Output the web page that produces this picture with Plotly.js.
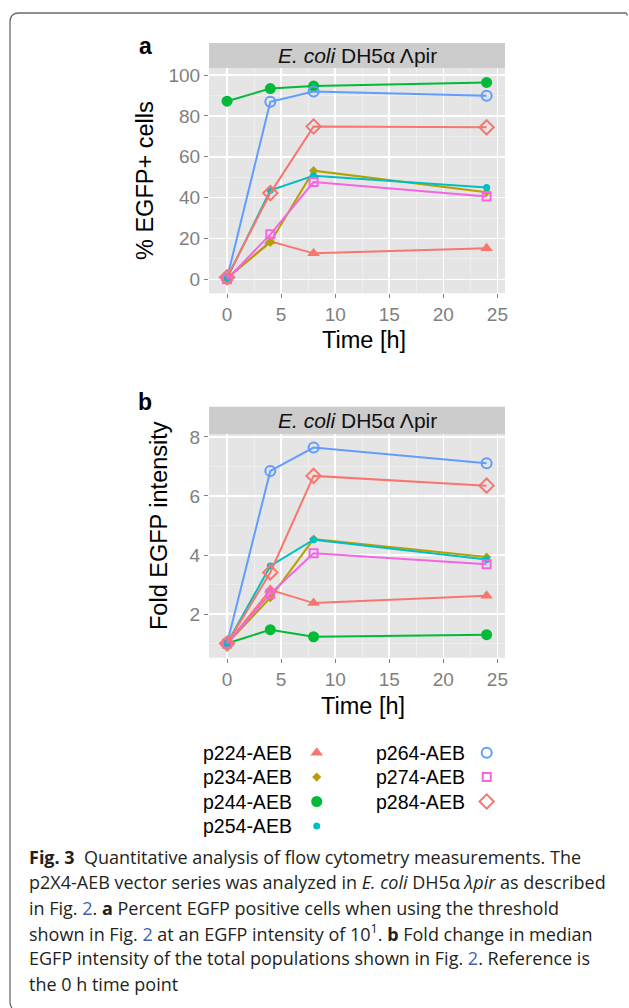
<!DOCTYPE html>
<html>
<head>
<meta charset="utf-8">
<script src="https://cdn.plot.ly/plotly-3.0.1.min.js"></script>
<style>html,body{margin:0;padding:0;background:#fff;}#chart{width:629px;height:1008px;}</style>
</head>
<body>
<div id="chart"></div>
<script>
// ---------------- data ----------------
const timeH = [0, 4, 8, 24];
const seriesNames = ["p224-AEB", "p234-AEB", "p244-AEB", "p254-AEB", "p264-AEB", "p274-AEB", "p284-AEB"];
// % EGFP+ cells (panel a)
const pct_p224 = [0.5, 18.6, 12.7, 15.2];
const pct_p234 = [0.5, 18.1, 53.2, 42.6];
const pct_p244 = [87.2, 93.4, 94.6, 96.4];
const pct_p254 = [0.5, 43.6, 50.7, 44.9];
const pct_p264 = [0.5, 86.9, 91.9, 89.9];
const pct_p274 = [0.0, 22.0, 47.6, 40.5];
const pct_p284 = [1.0, 42.2, 74.8, 74.4];
// Fold EGFP intensity (panel b)
const fold_p224 = [1, 2.82, 2.37, 2.62];
const fold_p234 = [1, 2.55, 4.54, 3.93];
const fold_p244 = [1, 1.47, 1.23, 1.30];
const fold_p254 = [1, 3.63, 4.52, 3.85];
const fold_p264 = [1, 6.85, 7.64, 7.11];
const fold_p274 = [1, 2.69, 4.06, 3.69];
const fold_p284 = [1, 3.41, 6.68, 6.35];
const xTicks = [0, 5, 10, 15, 20, 25];
const stripLabel = "<i>E. coli</i> DH5α Λpir";

const pctSeries = [pct_p224, pct_p234, pct_p244, pct_p254, pct_p264, pct_p274, pct_p284];
const foldSeries = [fold_p224, fold_p234, fold_p244, fold_p254, fold_p264, fold_p274, fold_p284];

// ---------------- styles ----------------
const seriesColors = ["#F8766D", "#B79F00", "#00BA38", "#00BFC4", "#619CFF", "#F564E3", "#F8766D"];
const seriesSymbols = ["triangle-up", "diamond", "circle", "circle", "circle-open", "square-open", "diamond-open"];
const seriesSizes = [11, 7, 11, 7, 10, 8, 11];
const seriesOpen = [false, false, false, false, true, true, true];

const W = 629, H = 1008;
const px = x => x / W;
const py = y => 1 - y / H;
const FONT = '"Liberation Sans", Arial, Helvetica, sans-serif';
const CAPFONT = '"Open Sans", "Noto Sans", sans-serif';

const PL = 209, PR = 505;
const A = {top: 68.3, bottom: 293.3, stripTop: 43};
const B = {top: 434.3, bottom: 657.7, stripTop: 406.7};

const traces = [];
function marker(i) {
  return {
    symbol: seriesSymbols[i], size: seriesSizes[i], color: seriesColors[i],
    line: {color: seriesColors[i], width: seriesOpen[i] ? 2 : 0}
  };
}
for (let i = 0; i < seriesNames.length; i++) {
  traces.push({x: timeH, y: pctSeries[i], xaxis: "x", yaxis: "y", mode: "lines+markers", name: seriesNames[i],
    line: {color: seriesColors[i], width: 2}, marker: marker(i), showlegend: false, cliponaxis: false});
  traces.push({x: timeH, y: foldSeries[i], xaxis: "x2", yaxis: "y2", mode: "lines+markers", name: seriesNames[i],
    line: {color: seriesColors[i], width: 2}, marker: marker(i), showlegend: false, cliponaxis: false});
}
// custom legend (text then key, two columns)
const legCols = [{tx: 200.7, kx: 316.7}, {tx: 374, kx: 486.7}];
const legRow0 = 752.7, legDy = 24.4, legPerCol = 4;
const annotations = [];
for (let i = 0; i < seriesNames.length; i++) {
  const c = Math.floor(i / legPerCol), r = i % legPerCol;
  const yy = legRow0 + r * legDy;
  traces.push({x: [legCols[c].kx], y: [yy], xaxis: "x3", yaxis: "y3", mode: "markers",
    marker: marker(i), showlegend: false, cliponaxis: false, hoverinfo: "skip"});
  annotations.push({xref: "paper", yref: "paper", x: px(legCols[c].tx), y: py(yy), xanchor: "left", yanchor: "middle",
    text: seriesNames[i], showarrow: false, font: {family: FONT, size: 19.5, color: "#000"}});
}

function xaxisDef(anchor) {
  return {
    domain: [px(PL), px(PR)], range: [-1.67, 25.7], anchor: anchor,
    tickmode: "array", tickvals: xTicks, ticktext: xTicks.map(String),
    showgrid: true, gridcolor: "#ffffff", gridwidth: 1.6, zeroline: false, showline: false,
    ticks: "outside", ticklen: 4, tickwidth: 1, tickcolor: "#7f7f7f",
    tickfont: {family: FONT, size: 19, color: "#7f7f7f"},
    minor: {tickmode: "array", tickvals: [2.5, 7.5, 12.5, 17.5, 22.5], showgrid: true, gridcolor: "#F2F2F2", gridwidth: 0.7, ticks: ""},
    fixedrange: true
  };
}
function yaxisDef(anchor, top, bottom, range, dtick, minorVals) {
  return {
    domain: [py(bottom), py(top)], range: range, anchor: anchor,
    tickmode: "linear", tick0: 0, dtick: dtick,
    showgrid: true, gridcolor: "#ffffff", gridwidth: 1.6, zeroline: false, showline: false,
    ticks: "outside", ticklen: 4, tickwidth: 1, tickcolor: "#7f7f7f",
    tickfont: {family: FONT, size: 19, color: "#7f7f7f"},
    minor: {tickmode: "array", tickvals: minorVals, showgrid: true, gridcolor: "#F2F2F2", gridwidth: 0.7, ticks: ""},
    fixedrange: true
  };
}

const shapes = [
  {type: "rect", xref: "x domain", yref: "y domain", x0: 0, x1: 1, y0: 0, y1: 1, fillcolor: "#E5E5E5", line: {width: 0}, layer: "below"},
  {type: "rect", xref: "x2 domain", yref: "y2 domain", x0: 0, x1: 1, y0: 0, y1: 1, fillcolor: "#E5E5E5", line: {width: 0}, layer: "below"},
  {type: "rect", xref: "paper", yref: "paper", x0: px(PL), x1: px(PR), y0: py(A.top), y1: py(A.stripTop), fillcolor: "#CCCCCC", line: {width: 0}, layer: "below"},
  {type: "rect", xref: "paper", yref: "paper", x0: px(PL), x1: px(PR), y0: py(B.top), y1: py(B.stripTop), fillcolor: "#CCCCCC", line: {width: 0}, layer: "below"},
  {type: "path", xref: "paper", yref: "paper",
    path: `M ${px(12)},${py(1008)} Q ${px(10)},${py(1006)} ${px(10)},${py(1002)} L ${px(10)},${py(22)} Q ${px(10)},${py(13)} ${px(19)},${py(13)} L ${px(626)},${py(13)} L ${px(627.5)},${py(15.5)}`,
    line: {color: "#6a6a6a", width: 1.3}}
];

// strip texts, panel labels, axis titles
annotations.push(
  {xref: "paper", yref: "paper", x: px((PL + PR) / 2), y: py((A.stripTop + A.top) / 2), text: stripLabel, showarrow: false,
    xanchor: "center", yanchor: "middle", font: {family: FONT, size: 21, color: "#111"}},
  {xref: "paper", yref: "paper", x: px((PL + PR) / 2), y: py((B.stripTop + B.top) / 2), text: stripLabel, showarrow: false,
    xanchor: "center", yanchor: "middle", font: {family: FONT, size: 21, color: "#111"}},
  {xref: "paper", yref: "paper", x: px(145), y: py(46), text: "<b>a</b>", showarrow: false,
    xanchor: "center", yanchor: "middle", font: {family: FONT, size: 23, color: "#000"}},
  {xref: "paper", yref: "paper", x: px(145), y: py(402), text: "<b>b</b>", showarrow: false,
    xanchor: "center", yanchor: "middle", font: {family: FONT, size: 23, color: "#000"}},
  {xref: "paper", yref: "paper", x: px(145), y: py(181), text: "% EGFP+ cells", textangle: -90, showarrow: false,
    xanchor: "center", yanchor: "middle", font: {family: FONT, size: 23.5, color: "#000"}},
  {xref: "paper", yref: "paper", x: px(159), y: py(526), text: "Fold EGFP intensity", textangle: -90, showarrow: false,
    xanchor: "center", yanchor: "middle", font: {family: FONT, size: 23.5, color: "#000"}},
  {xref: "paper", yref: "paper", x: px(364), y: py(340), text: "Time [h]", showarrow: false,
    xanchor: "center", yanchor: "middle", font: {family: FONT, size: 23.5, color: "#000"}},
  {xref: "paper", yref: "paper", x: px(363), y: py(706), text: "Time [h]", showarrow: false,
    xanchor: "center", yanchor: "middle", font: {family: FONT, size: 23.5, color: "#000"}}
);

// caption
const LINK = "#3b62b8";
const captionLines = [
  "<b>Fig. 3</b>  Quantitative analysis of flow cytometry measurements. The",
  "p2X4-AEB vector series was analyzed in <i>E. coli</i> DH5α <i>λpir</i> as described",
  `in Fig. <span style="color:${LINK}">2</span>. <b>a</b> Percent EGFP positive cells when using the threshold`,
  `shown in Fig. <span style="color:${LINK}">2</span> at an EGFP intensity of 10<sup>1</sup>. <b>b</b> Fold change in median`,
  `EGFP intensity of the total populations shown in Fig. <span style="color:${LINK}">2</span>. Reference is`,
  "the 0 h time point"
];
const capY0 = 857, capDy = 25.3;
captionLines.forEach((t, k) => {
  annotations.push({xref: "paper", yref: "paper", x: px(27), y: py(capY0 + k * capDy), text: t, showarrow: false,
    xanchor: "left", yanchor: "middle", font: {family: CAPFONT, size: 18, color: "#231f20"}});
});

const layout = {
  width: W, height: H, margin: {l: 0, r: 0, t: 0, b: 0},
  paper_bgcolor: "#ffffff", plot_bgcolor: "rgba(0,0,0,0)",
  showlegend: false,
  xaxis: xaxisDef("y"),
  yaxis: yaxisDef("x", A.top, A.bottom, [-6.85, 103.3], 20, [10, 30, 50, 70, 90]),
  xaxis2: xaxisDef("y2"),
  yaxis2: yaxisDef("x2", B.top, B.bottom, [0.52, 8.09], 2, [1, 3, 5, 7]),
  xaxis3: {domain: [px(180), px(510)], range: [180, 510], visible: false, anchor: "y3", fixedrange: true},
  yaxis3: {domain: [py(840), py(735)], range: [840, 735], visible: false, anchor: "x3", fixedrange: true},
  shapes: shapes,
  annotations: annotations,
  hovermode: false
};

Plotly.newPlot("chart", traces, layout, {staticPlot: true, displayModeBar: false});
</script>
</body>
</html>
